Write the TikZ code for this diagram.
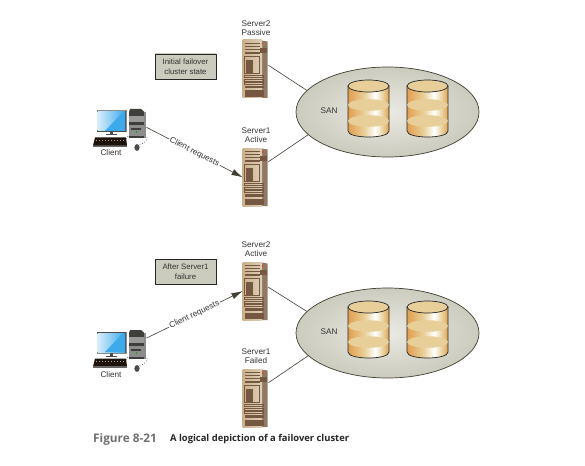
\documentclass[tikz,border=0pt]{standalone}
\usepackage{fontspec}
\setmainfont{Liberation Sans}
\newfontfamily\captionfont{Open Sans}
\usetikzlibrary{positioning, shapes.geometric, arrows.meta}
\definecolor{srvlight}{RGB}{205, 186, 152}
\definecolor{srvside}{RGB}{143, 121, 98}
\definecolor{srvdark}{RGB}{117, 87, 66}
\definecolor{linedark}{RGB}{66, 62, 50}
\definecolor{sanouter}{RGB}{203, 203, 190}
\definecolor{saninner}{RGB}{234, 234, 228}
\definecolor{disktop}{RGB}{232, 207, 153}
\definecolor{screenblue}{RGB}{60, 170, 235}
\definecolor{towergray}{RGB}{62, 62, 58}
\definecolor{capgray}{RGB}{110, 112, 112}
\pgfdeclarehorizontalshading{diskshade}{100bp}{
  color(0bp)=(disktop!40!brown!80!orange); color(25bp)=(disktop!55!brown!70!orange);
  color(45bp)=(disktop); color(58bp)=(white); color(68bp)=(disktop);
  color(75bp)=(disktop!60!orange!70!brown); color(100bp)=(disktop!60!orange!70!brown)}
\tikzset{
  lbl/.style={font=\fontsize{8.2}{9.6}\selectfont, text=black!80, align=center, inner sep=0pt},
  statebox/.style={draw=black!85, line width=0.7pt, left color=sanouter, middle color=saninner, right color=sanouter,
    minimum width=61, minimum height=25, inner sep=0pt, align=center,
    font=\fontsize{7.8}{10}\selectfont, text=black!80},
  srvbody/.style={anchor=north west, minimum width=25.5, minimum height=58, inner sep=0pt},
  towerbody/.style={anchor=north west, minimum width=17, minimum height=29, inner sep=0pt},
  sanshape/.style={ellipse, draw=linedark, line width=0.7pt, shading=radial, inner color=saninner,
    outer color=sanouter, minimum width=183, minimum height=90, inner sep=0pt},
  wire/.style={draw=linedark, line width=0.6pt},
  reqline/.style={wire, -{Latex[length=11pt,width=6.5pt]}},
  reqlbl/.style={midway, sloped, fill=white, font=\fontsize{8.2}{9.6}\selectfont, text=black!80, inner sep=1pt}
}

% server tower: name, left, top
\newcommand{\serverunit}[3]{
  \node[srvbody] (#1) at (#2,#3) {};
  \begin{scope}[shift={(#2,#3)}]
    \fill[srvside] (19,0.5) -- (25,1.5) -- (25,58) -- (19,58) -- cycle;
    \fill[left color=srvlight!85!brown, right color=srvlight!70!white] (0,0) rectangle (19.5,58);
    \fill[srvdark] (17,8) rectangle (24,13);
    \foreach \yy in {3,6,9} \fill[srvdark] (2,\yy) rectangle (17,\yy+1.1);
    \fill[srvdark] (2,12) rectangle (17,14);
    \draw[srvdark, line width=0.5pt] (2,16) rectangle (17,33);
    \fill[srvdark] (3,20) rectangle (10.5,33);
    \foreach \yy in {35.5,39,42.5} \draw[srvdark, line width=0.6pt] (2,\yy) rectangle (21,\yy+2);
    \fill[srvdark] (2,46) rectangle (21,48.5);
    \fill[srvdark] (2,50.5) rectangle (21,57);
    \fill[red!70!orange] (19.5,3) rectangle (20.5,4.5);
  \end{scope}
}

% client pc: name, tower left, tower top
\newcommand{\clientunit}[3]{
  \node[towerbody] (#1) at (#2,#3) {};
  \begin{scope}[shift={(#2,#3)}]
    % monitor
    \fill[black!45] (-32.5,1.5) rectangle (-2.5,23.5);
    \fill[black!70] (-32.5,2) rectangle (-3,23);
    \fill[left color=white!80!screenblue, right color=screenblue] (-31.5,3) rectangle (-4,22);
    \fill[screenblue] (-24,22) -- (-6,3) -- (-4,3) -- (-4,22) -- cycle;
    \fill[black!70] (-19,23) rectangle (-16,25.5);
    \fill[black!70] (-23,25.5) rectangle (-12,26.5);
    % keyboard
    \fill[black!60] (-36,36.5) rectangle (-2,38);
    \fill[black!85!brown] (-34,28.5) -- (-3,28.5) -- (-2,36.5) -- (-36,36.5) -- cycle;
    \foreach \xx in {-33,-30,...,-5} \fill[black!35] (\xx,31) rectangle (\xx+1.4,32);
    % tower
    \fill[towergray] (1,0) -- (12,0) -- (15.5,3) -- (0,3) -- cycle;
    \fill[black!45] (14,3) rectangle (17,29);
    \fill[towergray] (0,3) rectangle (14.5,29);
    \fill[black!40] (0,7) rectangle (14.5,13);
    \fill[black!45] (0,16) rectangle (14.5,27);
    \fill[towergray] (2,19) rectangle (12,21);
    \fill[green!70!black] (6.5,22) rectangle (8,24);
    \fill[yellow!70!black] (9,9) rectangle (10,10);
    % cables and mouse
    \draw[black!80, dotted, line width=0.7pt] (-3,30) -- (0,26);
    \draw[black!80, dotted, line width=0.7pt] (8,36) .. controls (13,35) and (18,34) .. (18,28);
    \fill[black!70] (8,38.5) ellipse[x radius=2.6, y radius=3.4];
  \end{scope}
}

% disk stack: left, top
\newcommand{\diskunit}[2]{
  \begin{scope}[shift={(#1,#2)}]
    \draw[draw=black!85, line width=0.7pt, shading=diskshade]
      (0,6) -- (0,51) .. controls (0,59) and (41,59) .. (41,51) -- (41,6) -- cycle;
    \foreach \yy in {25,41} \fill[disktop] (20.5,\yy) ellipse[x radius=20.5, y radius=5.8];
    \draw[draw=black!85, line width=0.7pt, fill=disktop] (20.5,6) ellipse[x radius=20.5, y radius=6];
  \end{scope}
}

\begin{document}
\begin{tikzpicture}[x=1pt, y=-1pt]
  \useasboundingbox (0,0) rectangle (585,465);
  \fill[white] (0,0) rectangle (585,465);

  % ---- INITIAL STATE ----
  \node[lbl] (srvtwoalbl) at (256,28) {Server2\\Passive};
  \serverunit{srvtwoa}{242.5}{40}
  \node[lbl] (srvonealbl) at (256,135) {Server1\\Active};
  \serverunit{srvonea}{242.5}{148}
  \node[statebox] (statea) at (185.5,66.5) {Initial failover\\cluster state};

  \clientunit{clienta}{129}{109}
  \node[lbl] (clientalbl) at (111,153) {Client};

  \node[sanshape] (sana) at (387.5,112) {};
  \node[lbl] (sanalbl) at (329,111) {SAN};
  \diskunit{348}{80}
  \diskunit{407}{80}

  \draw[wire] (srvtwoa.17) -- (sana.165);
  \draw[wire] (srvonea.50) -- (sana.196);
  \draw[reqline] (clienta.-22) -- node[reqlbl] (reqalbl) {Client requests} (srvonea.west);

  % ---- AFTER FAILURE ----
  \node[lbl] (srvtwoblbl) at (256,249) {Server2\\Active};
  \serverunit{srvtwob}{242.5}{262}
  \node[lbl] (srvoneblbl) at (256,356) {Server1\\Failed};
  \serverunit{srvoneb}{242.5}{369}
  \node[statebox] (stateb) at (185.5,271.5) {After Server1\\failure};

  \clientunit{clientb}{129}{330}
  \node[lbl] (clientblbl) at (111,375) {Client};

  \node[sanshape] (sanb) at (387.5,333) {};
  \node[lbl] (sanblbl) at (329,332) {SAN};
  \diskunit{348}{301}
  \diskunit{407}{301}

  \draw[wire] (srvtwob.17) -- (sanb.165);
  \draw[wire] (srvoneb.50) -- (sanb.196);
  \draw[reqline] (clientb.37) -- node[reqlbl] (reqblbl) {Client requests} (srvtwob.west);

  % ---- CAPTION ----
  \node[anchor=west, inner sep=0pt, font=\captionfont\fontsize{11.8}{14}\selectfont\bfseries, text=capgray] (capnum) at (93,439) {Figure 8-21};
  \node[anchor=west, inner sep=0pt, font=\captionfont\fontsize{9.4}{11}\selectfont\bfseries, text=black!85] (captext) at (170,439) {A logical depiction of a failover cluster};
\end{tikzpicture}
\end{document}
